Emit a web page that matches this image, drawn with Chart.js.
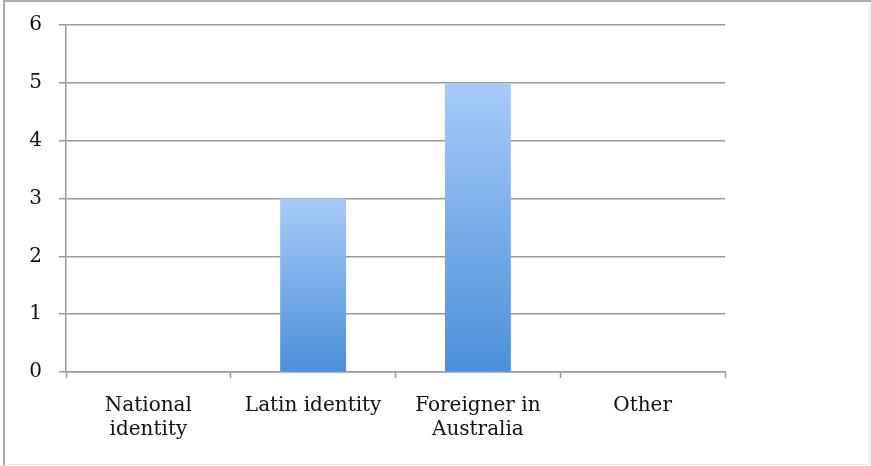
<!DOCTYPE html>
<html>
<head>
<meta charset="utf-8">
<script src="https://cdn.jsdelivr.net/npm/chart.js@4"></script>
<style>
  html, body { margin: 0; padding: 0; background: #fff; }
  #wrap { position: relative; width: 871px; height: 466px; }
</style>
</head>
<body>
<div id="wrap"><canvas id="identityChart"></canvas></div>
<script>
const categories = [["National", "identity"], "Latin identity", ["Foreigner in", "Australia"], "Other"];
const counts = [0, 3, 5, 0];
const yTicks = [0, 1, 2, 3, 4, 5, 6];

const ctx = document.getElementById("identityChart").getContext("2d");

// vertical fade on each bar, light at the top, deeper blue at the base
function barGradient(context) {
  const chart = context.chart;
  const y = chart.scales.y;
  if (!chart.chartArea || !y) return "#78a9e8";
  const v = context.raw || 0;
  const top = y.getPixelForValue(v);
  const bottom = y.getPixelForValue(0);
  if (!isFinite(top) || top === bottom) return "#78a9e8";
  const g = chart.ctx.createLinearGradient(0, top, 0, bottom);
  g.addColorStop(0, "#a8cbf8");
  g.addColorStop(1, "#4b8fd9");
  return g;
}

const frame = {
  id: "frame",
  beforeDraw(chart) {
    const c = chart.ctx;
    c.save();
    c.lineWidth = 2;
    c.strokeStyle = "#ababab";
    c.beginPath();
    c.moveTo(4, 466);
    c.lineTo(4, 1);
    c.lineTo(871, 1);
    c.stroke();
    c.lineWidth = 1;
    c.strokeStyle = "#e8e8e8";
    c.beginPath();
    c.moveTo(869.5, 2);
    c.lineTo(869.5, 464.5);
    c.lineTo(4, 464.5);
    c.stroke();
    c.restore();
  },
};

const config = {
  type: "bar",
  data: {
    labels: categories,
    datasets: [
      {
        data: counts,
        backgroundColor: barGradient,
        borderWidth: 0,
        categoryPercentage: 1,
        barPercentage: 0.4,
      },
    ],
  },
  options: {
    responsive: true,
    maintainAspectRatio: false,
    animation: false,
    layout: { padding: { left: 0, top: 25, right: 146, bottom: 0 } },
    plugins: {
      legend: { display: false },
      tooltip: { enabled: false },
    },
    scales: {
      x: {
        grid: {
          drawOnChartArea: false,
          drawTicks: true,
          tickLength: 6,
          tickWidth: 1.5,
          tickColor: "#999",
          offset: true,
        },
        border: { color: "#999", width: 1.5 },
        ticks: {
          color: "#111",
          padding: 16,
          maxRotation: 0,
          font: { family: "'DejaVu Serif'", size: 20, lineHeight: 1.2 },
        },
        afterFit(scale) { scale.height = 94; },
      },
      y: {
        min: 0,
        max: 6,
        afterBuildTicks(scale) {
          scale.ticks = yTicks.map((v) => ({ value: v }));
        },
        grid: {
          color: "#999",
          lineWidth: 1.5,
          tickLength: 7,
        },
        border: { color: "#999", width: 1.5 },
        ticks: {
          color: "#111",
          padding: 17,
          font: { family: "'DejaVu Serif'", size: 20 },
        },
        afterFit(scale) {
          scale.width = 66;
          scale.paddingTop = 0;
          scale.paddingBottom = 0;
        },
      },
    },
  },
  plugins: [frame],
};

const identityChart = new Chart(ctx, config);
</script>
</body>
</html>
